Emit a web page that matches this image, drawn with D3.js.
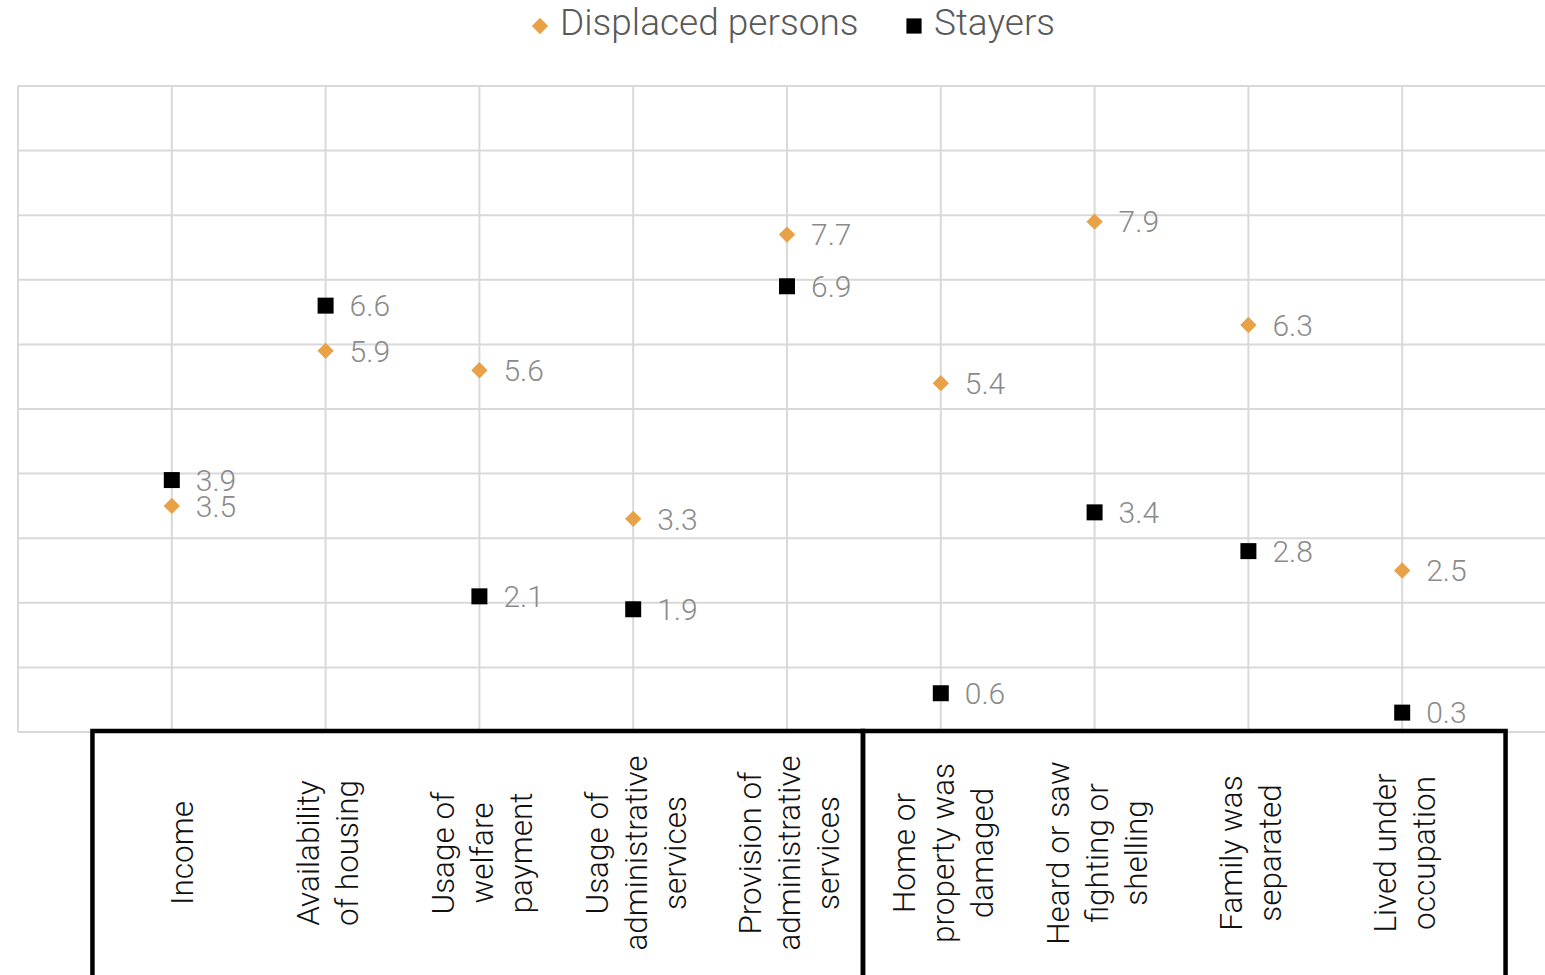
<!DOCTYPE html>
<html>
<head>
<meta charset="utf-8">
<script src="https://cdn.jsdelivr.net/npm/d3@7"></script>
<style>
  html, body { margin: 0; padding: 0; background: #fff; overflow: hidden; }
  svg { display: block; font-family: Roboto, "Noto Sans", sans-serif; }
</style>
</head>
<body>
<svg id="chart" width="1545" height="975"></svg>
<script>
// Categories (line breaks as shown under the axis)
const categories = [
  ["Income"],
  ["Availability", "of housing"],
  ["Usage of", "welfare", "payment"],
  ["Usage of", "administrative", "services"],
  ["Provision of", "administrative", "services"],
  ["Home or", "property was", "damaged"],
  ["Heard or saw", "fighting or", "shelling"],
  ["Family was", "separated"],
  ["Lived under", "occupation"]
];
const displaced = [3.5, 5.9, 5.6, 3.3, 7.7, 5.4, 7.9, 6.3, 2.5];
const stayers   = [3.9, 6.6, 2.1, 1.9, 6.9, 0.6, 3.4, 2.8, 0.3];
const seriesNames = ["Displaced persons", "Stayers"];
const yTicks = [0, 1, 2, 3, 4, 5, 6, 7, 8, 9, 10];
// Bracketing frames under the category labels, in axis units
const groupFrames = [[0.484, 5.494], [5.494, 9.672]];

const orange = "#E9A148";
const svg = d3.select("#chart");

const plotLeft = 18, plotTop = 86, plotBottom = 732;
const step = 153.8;
const x = d3.scaleLinear().domain([0, 10]).range([plotLeft, plotLeft + 10 * step]);
const y = d3.scaleLinear().domain([0, 10]).range([plotBottom, plotTop]);

// Gridlines
const grid = svg.append("g").attr("stroke", "#d9d9d9").attr("stroke-width", 2);
grid.selectAll("line.h").data(yTicks).join("line")
  .attr("class", "h")
  .attr("x1", x(0)).attr("x2", x(10))
  .attr("y1", d => y(d)).attr("y2", d => y(d));
grid.selectAll("line.v").data(d3.range(0, categories.length + 1)).join("line")
  .attr("class", "v")
  .attr("x1", d => x(d)).attr("x2", d => x(d))
  .attr("y1", y(10)).attr("y2", y(0));

// Category labels, rotated
const labels = svg.append("g")
  .attr("font-size", 31.5).attr("font-weight", 300).attr("fill", "#111");
categories.forEach((lines, i) => {
  const cx = x(i + 1) + (lines.length === 1 ? 10 : 2), cy = 853;
  const lh = 39;
  const t = labels.append("text")
    .attr("transform", `translate(${cx},${cy}) rotate(-90)`)
    .attr("text-anchor", "middle");
  lines.forEach((ln, j) => {
    t.append("tspan")
      .attr("x", 0)
      .attr("y", (j - (lines.length - 1) / 2) * lh)
      .attr("dy", "0.36em")
      .text(ln);
  });
});

// Group frames
svg.append("g").selectAll("rect").data(groupFrames).join("rect")
  .attr("x", d => x(d[0]))
  .attr("y", 731)
  .attr("width", d => x(d[1]) - x(d[0]))
  .attr("height", 300)
  .attr("fill", "none")
  .attr("stroke", "#000")
  .attr("stroke-width", 4.5);

// Markers
const diamond = d3.symbol().type(d3.symbolDiamond2).size(170);
const square = d3.symbol().type(d3.symbolSquare).size(256);

const marks = svg.append("g");
marks.selectAll("path.st").data(stayers).join("path")
  .attr("class", "st")
  .attr("d", square)
  .attr("fill", "#000")
  .attr("transform", (d, i) => `translate(${x(i + 1)},${y(d)})`);
marks.selectAll("path.dp").data(displaced).join("path")
  .attr("class", "dp")
  .attr("d", diamond)
  .attr("fill", orange)
  .attr("transform", (d, i) => `translate(${x(i + 1)},${y(d)})`);

// Value labels
const vals = svg.append("g")
  .attr("font-size", 30).attr("font-weight", 300).attr("fill", "#8a8a8a");
[displaced, stayers].forEach(series => {
  vals.append("g").selectAll("text").data(series).join("text")
    .attr("x", (d, i) => x(i + 1) + 24)
    .attr("y", d => y(d))
    .attr("dy", "0.36em")
    .text(d => d3.format(".1f")(d));
});

// Legend
const legend = svg.append("g")
  .attr("font-size", 37).attr("font-weight", 300).attr("fill", "#595959");
legend.append("path").attr("d", diamond)
  .attr("fill", orange).attr("transform", "translate(540,26)");
legend.append("text").attr("x", 560).attr("y", 22).attr("dy", "0.36em").text(seriesNames[0]);
legend.append("path").attr("d", square)
  .attr("fill", "#000").attr("transform", "translate(914,26) scale(0.95)");
legend.append("text").attr("x", 934).attr("y", 22).attr("dy", "0.36em").text(seriesNames[1]);
</script>
</body>
</html>
